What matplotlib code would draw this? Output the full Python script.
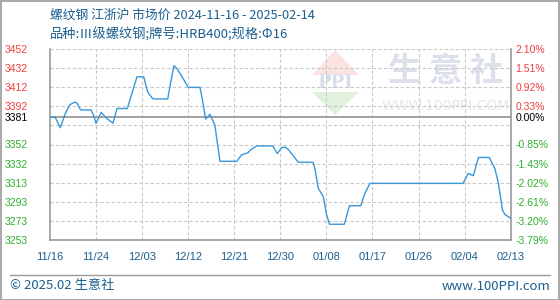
import matplotlib
matplotlib.use("Agg")
import matplotlib.pyplot as plt
import numpy as np
from matplotlib.patches import Polygon, Rectangle
from matplotlib.lines import Line2D

CJK = ['Noto Sans CJK SC', 'DejaVu Sans']
TICKFONT = "Liberation Sans"

title_line1 = "螺纹钢 江浙沪 市场价 2024-11-16 - 2025-02-14"
title_line2 = "品种:Ⅲ级螺纹钢;牌号:HRB400;规格:Φ16"
footer_left = "© 2025.02 生意社"
footer_right = "www.100PPI.com"

# x position (data point index) and price
day_idx = [0, 1, 2, 3, 3.9, 4.8, 5.2, 6, 8, 8.5, 9, 10, 11, 12, 12.3, 13.1, 15.1,
           15.9, 17, 18.3, 19.1, 20.1, 23, 23.4, 24.2, 24.75, 25.7, 27, 29.3,
           29.6, 29.95, 30.4, 31.25, 32.2, 33.2, 36.5, 37.4, 38.7, 39.2, 40.4,
           43.5, 44.4, 45.3, 46.0, 46.6, 48.5, 51.4, 51.8, 52.4, 53.4, 54.05,
           54.6, 57.5, 58.5, 60.7, 61.5, 62.5, 80.7, 81.7, 82.7, 83.7, 85.8,
           86.9, 87.6, 88.4, 88.9, 89.9, 90]
price = [3381, 3381, 3370, 3385, 3394, 3396.5, 3396, 3388.5, 3388.5, 3383, 3374.6,
         3386, 3380, 3376, 3374.6, 3390, 3390, 3404, 3423, 3423, 3407, 3400,
         3400, 3412, 3434.6, 3432, 3424, 3412, 3412, 3404, 3393.6, 3379, 3384,
         3373, 3335, 3335, 3341.6, 3344, 3347, 3351, 3351, 3343, 3349.6,
         3349.5, 3347, 3334, 3334, 3326, 3307, 3298, 3279, 3269.4, 3269.4,
         3288.7, 3288.7, 3301.6, 3312, 3312, 3322.5, 3320, 3339, 3339, 3327.6,
         3312, 3284, 3279.5, 3276, 3275.5]

x_tick_idx = [0, 9, 18, 27, 36, 45, 54, 63, 72, 81, 90]
x_tick_labels = ["11/16", "11/24", "12/03", "12/12", "12/21", "12/30",
                 "01/08", "01/17", "01/26", "02/04", "02/13"]

base_price = 3381
y_min, y_max = 3253, 3452
left_labels = ["3253", "3273", "3293", "3313", "3332", "3352", "",
               "3392", "3412", "3432", "3452"]
right_labels = ["-3.79%", "-3.20%", "-2.61%", "-2.02%", "-1.43%", "-0.85%", "",
                "0.33%", "0.92%", "1.51%", "2.10%"]
base_left_label = "3381"
base_right_label = "0.00%"

RED = "#f03c3c"
GREEN = "#2eae2e"
BLUE_TXT = "#1b5f8f"
LINE = "#3a97d8"
GRID = "#c8c8c8"
AXIS = "#9a9a9a"

fig = plt.figure(figsize=(5.6, 3.0), dpi=100)
fig.patch.set_facecolor("white")
W, H = 560, 300
L, R, T, B = 50, 510.7, 49, 240
ax = fig.add_axes([L / W, 1 - B / H, (R - L) / W, (B - T) / H])

def fx(px):
    return (px - L) / (R - L)
def fy(py):
    return (B - py) / (B - T)

# watermark
ax.add_patch(Polygon([[fx(312), fy(75)], [fx(335), fy(50)], [fx(359), fy(75)]],
                     closed=True, transform=ax.transAxes, facecolor="#fbe3df",
                     edgecolor="none", zorder=0))
ax.add_patch(Polygon([[fx(312), fy(92)], [fx(335), fy(115)], [fx(359), fy(92)]],
                     closed=True, transform=ax.transAxes, facecolor="#e0f1dc",
                     edgecolor="none", zorder=0))
ax.text(fx(335), fy(83.5), "PPI", transform=ax.transAxes, ha="center",
        va="center", fontsize=13, color="#d6dcea", fontweight="bold",
        family="DejaVu Serif", zorder=0)
ax.text(fx(446), fy(71), "生 意 社", transform=ax.transAxes, ha="center",
        va="center", fontsize=24, color="#dbe0ea", fontweight="bold",
        family=CJK, zorder=0)
ax.text(fx(446), fy(106), "WWW.100PPI.COM", transform=ax.transAxes,
        ha="center", va="center", fontsize=10, color="#e6e6e6",
        family="DejaVu Sans", zorder=0)

ticks_y = np.linspace(y_min, y_max, 11)
for yv in ticks_y:
    ax.axhline(yv, color=GRID, lw=0.8, ls=(0, (3, 2)), zorder=1)
for xv in x_tick_idx[1:-1]:
    ax.axvline(xv, color=GRID, lw=0.8, ls=(0, (3, 2)), zorder=1)
ax.axhline(base_price, color=AXIS, lw=1.3, zorder=2)

ax.plot(day_idx, price, color=LINE, lw=1.0, zorder=3)

ax.set_xlim(0, 90)
ax.set_ylim(y_min, y_max)

for side in ["left", "bottom", "right"]:
    ax.spines[side].set_color(AXIS)
    ax.spines[side].set_linewidth(1.2)
ax.spines["top"].set_visible(False)

ax.set_xticks(x_tick_idx)
ax.set_xticklabels(x_tick_labels, family=TICKFONT)
ax.tick_params(axis="x", length=0, pad=9, labelsize=8, labelcolor=BLUE_TXT)

yt = list(ticks_y) + [base_price]
ax.set_yticks(yt)
ax.set_yticklabels(left_labels + [base_left_label], family=TICKFONT)
ax.tick_params(axis="y", length=0, pad=16, labelsize=7.5)

def col(v):
    if abs(v - base_price) < 0.5:
        return "black"
    return RED if v > base_price else GREEN

for t, v in zip(ax.get_yticklabels(), yt):
    t.set_color(col(v))

ax2 = ax.twinx()
ax2.set_ylim(y_min, y_max)
ax2.set_yticks(yt)
ax2.set_yticklabels(right_labels + [base_right_label], family=TICKFONT)
ax2.tick_params(axis="y", length=0, pad=3.5, labelsize=7.5)
for t, v in zip(ax2.get_yticklabels(), yt):
    t.set_color(col(v))
for s in ax2.spines.values():
    s.set_visible(False)

# titles
fig.text(50 / W, 1 - 15 / H, title_line1, ha="left", va="center",
         fontsize=9.2, color=BLUE_TXT, family=CJK)
fig.text(50 / W, 1 - 35 / H, title_line2, ha="left", va="center",
         fontsize=9.5, color=BLUE_TXT, family=CJK)

# footer
fig.add_artist(Line2D([10 / W, 550 / W], [1 - 275 / H, 1 - 275 / H],
                      color=AXIS, lw=1.0))
fig.text(10 / W, 1 - 286 / H, footer_left, ha="left", va="center",
         fontsize=9.5, color=BLUE_TXT, family=CJK)
fig.text(550 / W, 1 - 286 / H, footer_right, ha="right", va="center",
         fontsize=9.5, color=BLUE_TXT, family=CJK)

# outer border
fig.add_artist(Rectangle((0.5 / W, 0.5 / H), 1 - 1.5 / W, 1 - 1.5 / H,
                         transform=fig.transFigure, fill=False,
                         edgecolor=AXIS, lw=1.2))

fig.savefig("out.png", dpi=100)
